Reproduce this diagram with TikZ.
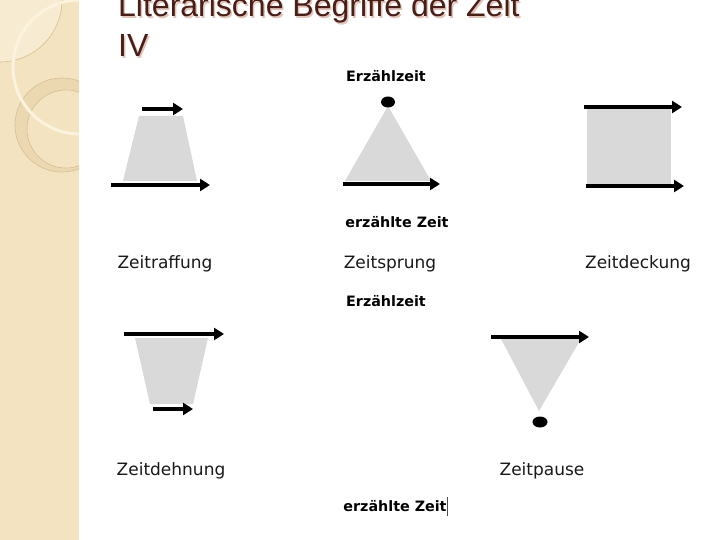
\documentclass[tikz,border=0pt]{standalone}
\usepackage{fontspec}
\setmainfont{DejaVu Sans}
\newfontfamily\titlefont{Liberation Sans}
\usetikzlibrary{arrows.meta}
\definecolor{shapegray}{RGB}{217,217,217}
\definecolor{stripbeige}{RGB}{243,227,192}
\definecolor{striplight}{RGB}{247,236,210}
\definecolor{stripring}{RGB}{236,216,176}
\definecolor{stripline}{RGB}{214,190,148}
\definecolor{stripcream}{RGB}{251,243,222}
\definecolor{titlebrown}{RGB}{72,30,22}
\definecolor{titleshadow}{RGB}{226,196,186}
\tikzset{
  arr/.style={line width=4pt,-{Triangle[length=10pt,width=12pt]}},
  shp/.style={fill=shapegray,draw=none},
  dotshape/.style={fill=black},
  lbl/.style={font=\fontsize{17}{20}\selectfont,anchor=base,text=black!90,inner sep=0pt},
  blbl/.style={font=\fontsize{14.3}{17}\selectfont\bfseries,anchor=base,text=black,inner sep=0pt},
  ttl/.style={font=\titlefont\fontsize{32}{38}\selectfont,anchor=base west,inner sep=0pt}
}
\begin{document}
\begin{tikzpicture}[x=1pt,y=-1pt]
\useasboundingbox (0,0) rectangle (720,540);
\fill[white] (0,0) rectangle (720,540);
% left decorative strip
\begin{scope}
\clip (0,0) rectangle (79,540);
\fill[stripbeige] (0,0) rectangle (79,540);
\fill[striplight] (0,0) circle (62);
\draw[stripline,line width=0.6pt] (0,0) circle (62);
\fill[stripring,even odd rule] (62,125) circle (47) (66,129) circle (39);
\draw[stripline,line width=0.6pt] (62,125) circle (47);
\draw[stripline,line width=0.6pt] (66,129) circle (39);
\draw[stripcream,line width=3pt] (80,67) circle (67);
\end{scope}
% title
\node[ttl,text=titleshadow] (titleAs) at (119.5,18.5) {Literarische Begriffe der Zeit};
\node[ttl,text=titlebrown] (titleA) at (118,17) {Literarische Begriffe der Zeit};
\node[ttl,text=titleshadow] (titleBs) at (119.5,58.5) {IV};
\node[ttl,text=titlebrown] (titleB) at (118,57) {IV};
% Zeitraffung
\fill[shp] (139,116) -- (183,116) -- (197,181) -- (123,181) -- cycle;
\draw[arr] (142,109) -- (183,109);
\draw[arr] (111,185) -- (210,185);
\node[lbl] (raff) at (165,268) {Zeitraffung};
% Zeitsprung
\node[blbl] (ez1) at (386,82) {Erzählzeit};
\fill[shp] (388,106) -- (431,181) -- (345,181) -- cycle;
\fill[dotshape] (388,102) ellipse [x radius=7,y radius=5.5];
\draw[arr] (343,184) -- (440,184);
\node[blbl] (ed1) at (397,228) {erzählte Zeit};
\node[lbl] (sprung) at (390,268) {Zeitsprung};
% Zeitdeckung
\fill[shp] (587,108) rectangle (671,184);
\draw[arr] (584,107) -- (682,107);
\draw[arr] (586,186) -- (684,186);
\node[lbl] (deck) at (638,268) {Zeitdeckung};
% middle labels
\node[blbl] (ez2) at (386,306) {Erzählzeit};
% Zeitdehnung
\fill[shp] (135,338) -- (208,338) -- (193,404) -- (150,404) -- cycle;
\draw[arr] (124,334) -- (224,334);
\draw[arr] (153,409) -- (193,409);
\node[lbl] (dehn) at (171,475) {Zeitdehnung};
% Zeitpause
\fill[shp] (500,337) -- (582,337) -- (539,411) -- cycle;
\draw[arr] (491,337) -- (589,337);
\fill[dotshape] (540,422) ellipse [x radius=7.5,y radius=5.5];
\node[lbl] (pause) at (542,475) {Zeitpause};
% bottom label with cursor
\node[blbl] (ed2) at (395,511) {erzählte Zeit};
\draw[black!70,line width=0.8pt] (447.5,497) -- (447.5,516);
\end{tikzpicture}
\end{document}
